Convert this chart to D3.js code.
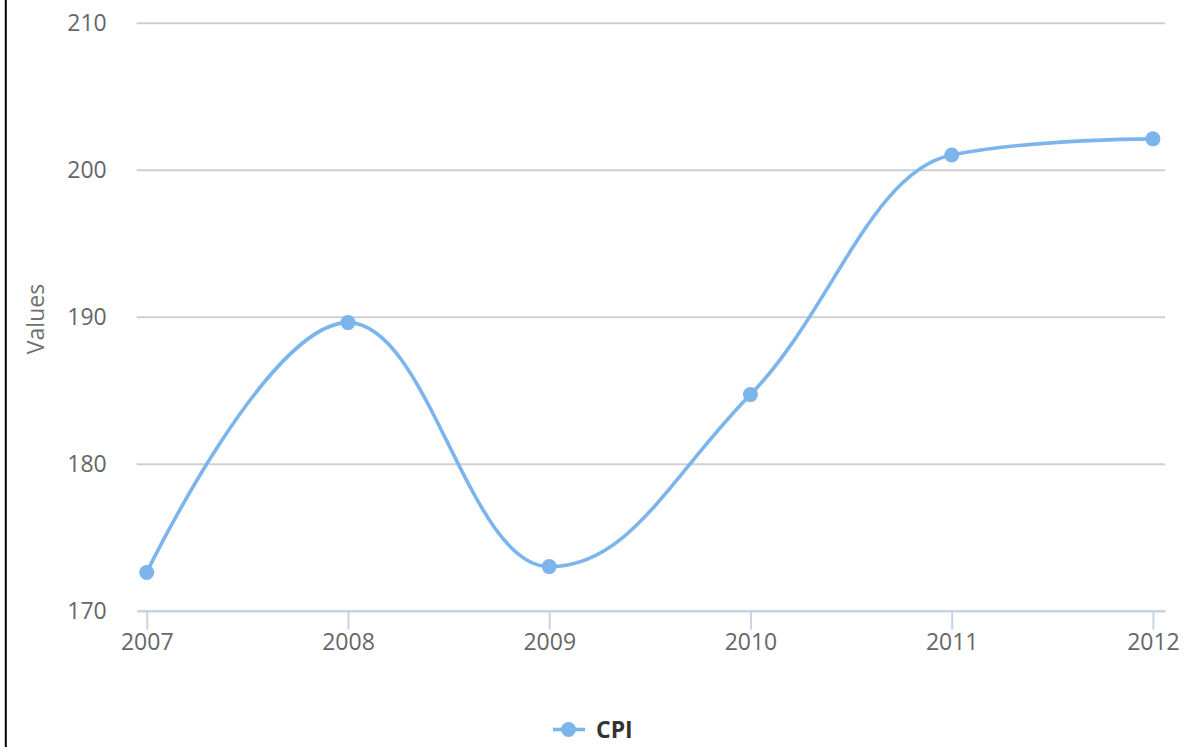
<!DOCTYPE html>
<html>
<head>
<meta charset="utf-8">
<script src="https://cdn.jsdelivr.net/npm/d3@7"></script>
<style>
  html, body { margin: 0; padding: 0; background: #fff; }
  svg { display: block; font-family: "Open Sans", "DejaVu Sans", sans-serif; }
</style>
</head>
<body>
<svg id="chart" width="1191" height="747"></svg>
<script>
const categories = ["2007", "2008", "2009", "2010", "2011", "2012"];
const cpiValues = [172.6, 189.6, 173.0, 184.7, 201.0, 202.1];
const yTicks = [170, 180, 190, 200, 210];
const seriesName = "CPI";
const yTitle = "Values";

const svg = d3.select("#chart");
const W = 1191, H = 747;
const plot = { left: 136.7, right: 1165, top: 22.7, bottom: 610.7 };
const color = "#7cb5ec";

const x = d3.scaleLinear().domain([-0.05, categories.length - 1 + 0.06]).range([plot.left, plot.right]);
const y = d3.scaleLinear().domain([170, 210]).range([plot.bottom, plot.top]);

// left border
svg.append("line").attr("x1", 5.8).attr("x2", 5.8).attr("y1", 0).attr("y2", H)
  .attr("stroke", "#000").attr("stroke-width", 2);

// grid
const grid = svg.append("g").attr("transform", `translate(${plot.left},0)`)
  .call(d3.axisLeft(y).tickValues(yTicks).tickSize(-(plot.right - plot.left)).tickFormat(""));
grid.select(".domain").remove();
grid.selectAll(".tick line").attr("stroke", "#cfcfcf").attr("stroke-width", 2)
  .filter(d => d === 170).remove();

// y labels
const yAxis = svg.append("g").attr("transform", `translate(${plot.left},0)`)
  .call(d3.axisLeft(y).tickValues(yTicks).tickSize(0).tickPadding(30));
yAxis.select(".domain").remove();
yAxis.selectAll("text").attr("font-size", 23).attr("fill", "#666")
  .attr("font-family", "'Open Sans', sans-serif").attr("dy", "0.35em");

// x axis
const xAxis = svg.append("g").attr("transform", `translate(0,${plot.bottom})`)
  .call(d3.axisBottom(x).tickValues(d3.range(categories.length)).tickFormat(i => categories[i])
    .tickSizeOuter(0).tickSizeInner(19).tickPadding(4));
xAxis.select(".domain").attr("stroke", "#c6d4e4").attr("stroke-width", 2.5);
xAxis.selectAll(".tick line").attr("stroke", "#c6d4e4").attr("stroke-width", 2);
xAxis.selectAll("text").attr("font-size", 23).attr("fill", "#666")
  .attr("font-family", "'Open Sans', sans-serif");

// y title
svg.append("text").attr("transform", `translate(44,319) rotate(-90)`)
  .attr("text-anchor", "middle").attr("font-size", 23).attr("fill", "#707070")
  .text(yTitle);

// Highcharts-style spline
const pts = cpiValues.map((v, i) => ({ px: x(i), py: y(v) }));
const smoothing = 1.5, denom = smoothing + 1;
const p = d3.path();
pts.forEach((pt, i) => {
  if (i === 0) { p.moveTo(pt.px, pt.py); return; }
  const last = pts[i - 1];
  let lcx, lcy;
  if (i < pts.length - 1) {
    const next = pts[i + 1];
    lcx = (smoothing * pt.px + last.px) / denom;
    lcy = (smoothing * pt.py + last.py) / denom;
    const rcx = (smoothing * pt.px + next.px) / denom;
    let rcy = (smoothing * pt.py + next.py) / denom;
    let corr = 0;
    if (rcx !== lcx) corr = ((rcy - lcy) * (rcx - pt.px)) / (rcx - lcx) + pt.py - rcy;
    lcy += corr; rcy += corr;
    if (lcy > last.py && lcy > pt.py) { lcy = Math.max(last.py, pt.py); rcy = 2 * pt.py - lcy; }
    else if (lcy < last.py && lcy < pt.py) { lcy = Math.min(last.py, pt.py); rcy = 2 * pt.py - lcy; }
    if (rcy > next.py && rcy > pt.py) { rcy = Math.max(next.py, pt.py); lcy = 2 * pt.py - rcy; }
    else if (rcy < next.py && rcy < pt.py) { rcy = Math.min(next.py, pt.py); lcy = 2 * pt.py - rcy; }
    pt.rcx = rcx; pt.rcy = rcy;
  } else { lcx = pt.px; lcy = pt.py; }
  p.bezierCurveTo(last.rcx ?? last.px, last.rcy ?? last.py, lcx, lcy, pt.px, pt.py);
});
svg.append("path").attr("d", p.toString()).attr("fill", "none")
  .attr("stroke", color).attr("stroke-width", 3.6).attr("stroke-linejoin", "round").attr("stroke-linecap", "round");

svg.append("g").selectAll("circle").data(cpiValues).join("circle")
  .attr("cx", (d, i) => x(i)).attr("cy", d => y(d)).attr("r", 7.5).attr("fill", color);

// legend
const lg = svg.append("g").attr("transform", "translate(553,729.5)");
lg.append("line").attr("x1", 0).attr("x2", 32).attr("stroke", color).attr("stroke-width", 3.6);
lg.append("circle").attr("cx", 15.5).attr("r", 7.5).attr("fill", color);
lg.append("text").attr("x", 43).attr("y", 8.5).attr("font-size", 23).attr("font-weight", "bold")
  .attr("fill", "#333").text(seriesName);
</script>
</body>
</html>
